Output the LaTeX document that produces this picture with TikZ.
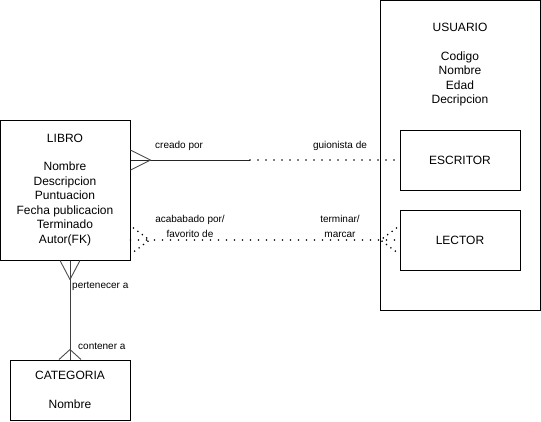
\documentclass[tikz,border=0pt]{standalone}
\usepackage{fontspec}
\setmainfont{Liberation Sans}
\begin{document}
\begin{tikzpicture}[x=1pt,y=-1pt,
  box/.style={draw=black,line width=1pt,rectangle,inner sep=0pt,align=center,
    font=\fontsize{12}{14.5}\selectfont},
  lbl/.style={inner sep=0pt,align=center,font=\fontsize{10}{15}\selectfont},
  solidline/.style={line width=1pt,draw=black!85},
  dotline/.style={line width=1.9pt,dash pattern=on 0pt off 8pt,line cap=round,draw=black},
  crow/.style={line width=0.9pt,draw=black!70},
  crowdot/.style={line width=1.8pt,dash pattern=on 0pt off 5.5pt,line cap=round,draw=black}]
\useasboundingbox (0,0) rectangle (541,421);
% entities
\node[box,minimum width=160pt,minimum height=310pt] (usuario) at (460,155) {};
\node[font=\fontsize{12}{14.5}\selectfont,align=center,inner sep=0pt] (usuariotxt) at (460,64.5)
  {USUARIO\\[14.5pt]Codigo\\Nombre\\Edad\\Decripcion};
\node[box,minimum width=120pt,minimum height=60pt] (escritor) at (460,160) {ESCRITOR};
\node[box,minimum width=120pt,minimum height=60pt] (lector) at (460,240) {LECTOR};
\node[box,minimum width=130pt,minimum height=140pt] (libro) at (65,190)
  {LIBRO\\[14pt]Nombre\\Descripcion\\Puntuacion\\Fecha publicacion\\Terminado\\Autor(FK)};
\node[box,minimum width=120pt,minimum height=60pt] (categoria) at (70,390)
  {CATEGORIA\\[14.5pt]Nombre};
% creado por / guionista de
\coordinate (c1) at (libro.east |- escritor.west);
\coordinate (cmid) at (250,160);
\draw[solidline] (c1) -- (cmid);
\draw[dotline] (cmid) -- (escritor.west);
\draw[crow] ([shift={(0,-10)}]c1) -- ([shift={(20,0)}]c1) -- ([shift={(0,10)}]c1);
\node[lbl,anchor=west] (lcreado) at (155,146) {creado por};
\node[lbl] (lguion) at (340,146) {guionista de};
% acababado por / terminar
\coordinate (c2) at (libro.east |- lector.west);
\draw[dotline] (c2) -- (lector.west);
\draw[crowdot] ([shift={(3,-12)}]c2) -- ([shift={(19,0)}]c2) -- ([shift={(3,12)}]c2);
\draw[crowdot] ([shift={(-3,-12)}]lector.west) -- ([shift={(-19,0)}]lector.west) -- ([shift={(-3,12)}]lector.west);
\node[lbl] (lacab) at (190,226.5) {acababado por/\\favorito de};
\node[lbl] (lterm) at (340,226.5) {terminar/\\marcar};
% pertenecer a / contener a
\coordinate (c3) at (libro.south -| categoria.north);
\draw[solidline,draw=black!75] (c3) -- (categoria.north);
\draw[crow] ([shift={(-10,0)}]c3) -- ([shift={(0,19)}]c3) -- ([shift={(10,0)}]c3);
\draw[crow] ([shift={(-11,0)}]categoria.north) -- ([shift={(0,-10)}]categoria.north) -- ([shift={(11,0)}]categoria.north);
\node[lbl,anchor=west] (lpert) at (72,286) {pertenecer a};
\node[lbl,anchor=west] (lcont) at (78,346) {contener a};
\end{tikzpicture}
\end{document}
